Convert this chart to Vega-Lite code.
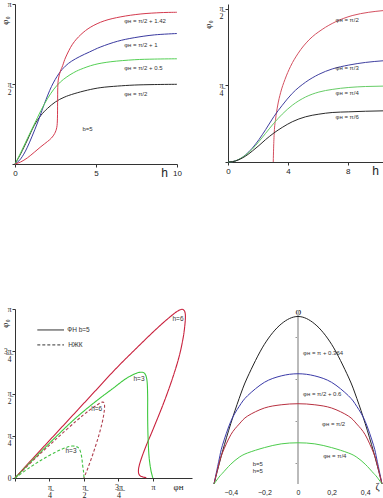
{
"$schema":"https://vega.github.io/schema/vega-lite/v6.json",
"background":"white",
"padding":{"left":0,"top":0,"right":0,"bottom":0},
"bounds":"flush",
"spacing":305,
"resolve":{"scale":{"color":"independent","strokeDash":"independent"}},
"config":{"view":{"stroke":null},"axis":{"grid":false,"domainColor":"#333","tickColor":"#333","labelColor":"#222","titleColor":"#222","labelFont":"Liberation Serif","titleFont":"Liberation Serif","labelFontSize":8,"tickSize":3,"titleFontWeight":"normal","labelLineHeight":8,"labelFlush":false,"labelOverlap":false}},
"datasets":{
"p1":[
{"s":"k","i":0,"x":0,"y":0},{"s":"k","i":1,"x":0.35,"y":0.2},{"s":"k","i":2,"x":0.763,"y":0.47},{"s":"k","i":3,"x":1.175,"y":0.75},{"s":"k","i":4,"x":1.588,"y":0.95},{"s":"k","i":5,"x":2.0,"y":1.09},{"s":"k","i":6,"x":2.5,"y":1.22},{"s":"k","i":7,"x":3.031,"y":1.31},{"s":"k","i":8,"x":3.649,"y":1.38},{"s":"k","i":9,"x":4.474,"y":1.45},{"s":"k","i":10,"x":5.299,"y":1.5},{"s":"k","i":11,"x":6.33,"y":1.53},{"s":"k","i":12,"x":7.361,"y":1.55},{"s":"k","i":13,"x":8.598,"y":1.56},{"s":"k","i":14,"x":10,"y":1.565},
{"s":"b","i":0,"x":0,"y":0},{"s":"b","i":1,"x":0.35,"y":0.1},{"s":"b","i":2,"x":0.763,"y":0.33},{"s":"b","i":3,"x":1.36,"y":0.785},{"s":"b","i":4,"x":1.8,"y":1.17},{"s":"b","i":5,"x":2.25,"y":1.52},{"s":"b","i":6,"x":2.7,"y":1.77},{"s":"b","i":7,"x":3.1,"y":1.92},{"s":"b","i":8,"x":3.5,"y":2.02},{"s":"b","i":9,"x":4.0,"y":2.11},{"s":"b","i":10,"x":4.6,"y":2.2},{"s":"b","i":11,"x":5.3,"y":2.3},{"s":"b","i":12,"x":6.33,"y":2.41},{"s":"b","i":13,"x":7.36,"y":2.48},{"s":"b","i":14,"x":8.6,"y":2.535},{"s":"b","i":15,"x":10,"y":2.562},
{"s":"g","i":0,"x":0,"y":0},{"s":"g","i":1,"x":0.35,"y":0.22},{"s":"g","i":2,"x":0.763,"y":0.5},{"s":"g","i":3,"x":1.19,"y":0.78},{"s":"g","i":4,"x":1.6,"y":1.05},{"s":"g","i":5,"x":2.0,"y":1.28},{"s":"g","i":6,"x":2.4,"y":1.47},{"s":"g","i":7,"x":2.8,"y":1.61},{"s":"g","i":8,"x":3.2,"y":1.71},{"s":"g","i":9,"x":3.6,"y":1.79},{"s":"g","i":10,"x":4.062,"y":1.86},{"s":"g","i":11,"x":4.887,"y":1.95},{"s":"g","i":12,"x":5.918,"y":2.008},{"s":"g","i":13,"x":7.361,"y":2.047},{"s":"g","i":14,"x":8.598,"y":2.06},{"s":"g","i":15,"x":10,"y":2.066},
{"s":"r","i":0,"x":0,"y":0},{"s":"r","i":1,"x":0.35,"y":0.04},{"s":"r","i":2,"x":0.763,"y":0.12},{"s":"r","i":3,"x":1.19,"y":0.23},{"s":"r","i":4,"x":1.6,"y":0.34},{"s":"r","i":5,"x":2.0,"y":0.44},{"s":"r","i":6,"x":2.25,"y":0.51},{"s":"r","i":7,"x":2.45,"y":0.6},{"s":"r","i":8,"x":2.58,"y":0.72},{"s":"r","i":9,"x":2.62,"y":0.9},{"s":"r","i":10,"x":2.63,"y":1.2},{"s":"r","i":11,"x":2.64,"y":1.5},{"s":"r","i":12,"x":2.68,"y":1.67},{"s":"r","i":13,"x":2.8,"y":1.82},{"s":"r","i":14,"x":2.94,"y":1.93},{"s":"r","i":15,"x":3.134,"y":2.1},{"s":"r","i":16,"x":3.546,"y":2.35},{"s":"r","i":17,"x":4.062,"y":2.54},{"s":"r","i":18,"x":4.68,"y":2.69},{"s":"r","i":19,"x":5.505,"y":2.81},{"s":"r","i":20,"x":6.536,"y":2.89},{"s":"r","i":21,"x":7.773,"y":2.946},{"s":"r","i":22,"x":9.01,"y":2.972},{"s":"r","i":23,"x":10,"y":2.979}
],
"p1t":[
{"x":6.74,"y":2.8,"t":"φн = π/2 + 1.42"},{"x":6.74,"y":2.346,"t":"φн = π/2 + 1"},{"x":6.74,"y":1.89,"t":"φн = π/2 + 0.5"},{"x":6.74,"y":1.369,"t":"φн = π/2"},{"x":4.16,"y":0.684,"t":"b=5"}
],
"p2":[
{"s":"r","i":0,"x":3.022,"y":0},{"s":"r","i":1,"x":3.044,"y":0.135},{"s":"r","i":2,"x":3.089,"y":0.305},{"s":"r","i":3,"x":3.178,"y":0.44},{"s":"r","i":4,"x":3.311,"y":0.575},{"s":"r","i":5,"x":3.511,"y":0.711},{"s":"r","i":6,"x":3.8,"y":0.846},{"s":"r","i":7,"x":4.178,"y":0.982},{"s":"r","i":8,"x":4.689,"y":1.117},{"s":"r","i":9,"x":5.4,"y":1.252},{"s":"r","i":10,"x":6.289,"y":1.361},{"s":"r","i":11,"x":7.178,"y":1.439},{"s":"r","i":12,"x":8.289,"y":1.503},{"s":"r","i":13,"x":9.4,"y":1.537},{"s":"r","i":14,"x":10.35,"y":1.554},
{"s":"b","i":0,"x":0,"y":0},{"s":"b","i":1,"x":0.289,"y":0.003},{"s":"b","i":2,"x":0.733,"y":0.027},{"s":"b","i":3,"x":1.178,"y":0.074},{"s":"b","i":4,"x":1.622,"y":0.142},{"s":"b","i":5,"x":2.067,"y":0.23},{"s":"b","i":6,"x":2.511,"y":0.332},{"s":"b","i":7,"x":3.067,"y":0.467},{"s":"b","i":8,"x":3.622,"y":0.582},{"s":"b","i":9,"x":4.289,"y":0.704},{"s":"b","i":10,"x":5.178,"y":0.819},{"s":"b","i":11,"x":6.067,"y":0.9},{"s":"b","i":12,"x":6.956,"y":0.955},{"s":"b","i":13,"x":8.067,"y":0.995},{"s":"b","i":14,"x":9.178,"y":1.022},{"s":"b","i":15,"x":10.35,"y":1.039},
{"s":"g","i":0,"x":0,"y":0},{"s":"g","i":1,"x":0.289,"y":0.003},{"s":"g","i":2,"x":0.733,"y":0.027},{"s":"g","i":3,"x":1.178,"y":0.071},{"s":"g","i":4,"x":1.622,"y":0.132},{"s":"g","i":5,"x":2.067,"y":0.21},{"s":"g","i":6,"x":2.511,"y":0.294},{"s":"g","i":7,"x":3.067,"y":0.399},{"s":"g","i":8,"x":3.622,"y":0.491},{"s":"g","i":9,"x":4.289,"y":0.582},{"s":"g","i":10,"x":5.178,"y":0.667},{"s":"g","i":11,"x":6.067,"y":0.718},{"s":"g","i":12,"x":6.956,"y":0.745},{"s":"g","i":13,"x":8.067,"y":0.765},{"s":"g","i":14,"x":9.178,"y":0.775},{"s":"g","i":15,"x":10.35,"y":0.779},
{"s":"k","i":0,"x":0,"y":0},{"s":"k","i":1,"x":0.289,"y":0.003},{"s":"k","i":2,"x":0.733,"y":0.024},{"s":"k","i":3,"x":1.178,"y":0.061},{"s":"k","i":4,"x":1.622,"y":0.112},{"s":"k","i":5,"x":2.067,"y":0.169},{"s":"k","i":6,"x":2.511,"y":0.23},{"s":"k","i":7,"x":3.067,"y":0.298},{"s":"k","i":8,"x":3.622,"y":0.355},{"s":"k","i":9,"x":4.289,"y":0.413},{"s":"k","i":10,"x":5.178,"y":0.464},{"s":"k","i":11,"x":6.067,"y":0.491},{"s":"k","i":12,"x":6.956,"y":0.508},{"s":"k","i":13,"x":8.067,"y":0.515},{"s":"k","i":14,"x":9.178,"y":0.521},{"s":"k","i":15,"x":10.35,"y":0.525}
],
"p2t":[
{"x":7.18,"y":1.456,"t":"φн = π/2"},{"x":7.18,"y":0.965,"t":"φн = π/3"},{"x":7.18,"y":0.704,"t":"φн = π/4"},{"x":7.18,"y":0.457,"t":"φн = π/6"}
],
"p3":[
{"s":"r6","i":0,"x":0,"y":0},{"s":"r6","i":1,"x":0.47,"y":0.42},{"s":"r6","i":2,"x":0.926,"y":0.822},{"s":"r6","i":3,"x":1.381,"y":1.224},{"s":"r6","i":4,"x":1.836,"y":1.626},{"s":"r6","i":5,"x":2.292,"y":2.028},{"s":"r6","i":6,"x":2.747,"y":2.399},{"s":"r6","i":7,"x":3.202,"y":2.758},{"s":"r6","i":8,"x":3.544,"y":3.005},{"s":"r6","i":9,"x":3.733,"y":3.117},{"s":"r6","i":10,"x":3.832,"y":3.129},{"s":"r6","i":11,"x":3.877,"y":3.049},{"s":"r6","i":12,"x":3.87,"y":2.863},{"s":"r6","i":13,"x":3.824,"y":2.585},{"s":"r6","i":14,"x":3.733,"y":2.245},{"s":"r6","i":15,"x":3.582,"y":1.843},{"s":"r6","i":16,"x":3.392,"y":1.41},{"s":"r6","i":17,"x":3.164,"y":0.946},{"s":"r6","i":18,"x":2.959,"y":0.544},{"s":"r6","i":19,"x":2.84,"y":0.266},{"s":"r6","i":20,"x":2.81,"y":0.124},{"s":"r6","i":21,"x":2.84,"y":0.049},{"s":"r6","i":22,"x":2.914,"y":0.019},{"s":"r6","i":23,"x":2.99,"y":0.006},
{"s":"g3","i":0,"x":0,"y":0},{"s":"g3","i":1,"x":0.47,"y":0.39},{"s":"g3","i":2,"x":0.926,"y":0.761},{"s":"g3","i":3,"x":1.381,"y":1.113},{"s":"g3","i":4,"x":1.836,"y":1.422},{"s":"g3","i":5,"x":2.216,"y":1.657},{"s":"g3","i":6,"x":2.519,"y":1.843},{"s":"g3","i":7,"x":2.747,"y":1.942},{"s":"g3","i":8,"x":2.883,"y":1.967},{"s":"g3","i":9,"x":2.959,"y":1.936},{"s":"g3","i":10,"x":3.005,"y":1.812},{"s":"g3","i":11,"x":3.02,"y":1.534},{"s":"g3","i":12,"x":3.02,"y":1.163},{"s":"g3","i":13,"x":3.028,"y":0.792},{"s":"g3","i":14,"x":3.05,"y":0.421},{"s":"g3","i":15,"x":3.088,"y":0.173},{"s":"g3","i":16,"x":3.126,"y":0.037},{"s":"g3","i":17,"x":3.141,"y":0},
{"s":"r6d","i":0,"x":0,"y":0},{"s":"r6d","i":1,"x":0.47,"y":0.371},{"s":"r6d","i":2,"x":0.926,"y":0.717},{"s":"r6d","i":3,"x":1.381,"y":1.051},{"s":"r6d","i":4,"x":1.685,"y":1.255},{"s":"r6d","i":5,"x":1.874,"y":1.36},{"s":"r6d","i":6,"x":1.988,"y":1.41},{"s":"r6d","i":7,"x":2.034,"y":1.379},{"s":"r6d","i":8,"x":2.034,"y":1.255},{"s":"r6d","i":9,"x":1.988,"y":1.039},{"s":"r6d","i":10,"x":1.897,"y":0.761},{"s":"r6d","i":11,"x":1.776,"y":0.451},{"s":"r6d","i":12,"x":1.654,"y":0.173},{"s":"r6d","i":13,"x":1.586,"y":0.037},{"s":"r6d","i":14,"x":1.571,"y":0},
{"s":"g3d","i":0,"x":0,"y":0},{"s":"g3d","i":1,"x":0.319,"y":0.186},{"s":"g3d","i":2,"x":0.622,"y":0.346},{"s":"g3d","i":3,"x":0.926,"y":0.482},{"s":"g3d","i":4,"x":1.153,"y":0.563},{"s":"g3d","i":5,"x":1.305,"y":0.594},{"s":"g3d","i":6,"x":1.419,"y":0.575},{"s":"g3d","i":7,"x":1.48,"y":0.513},{"s":"g3d","i":8,"x":1.518,"y":0.39},{"s":"g3d","i":9,"x":1.54,"y":0.235},{"s":"g3d","i":10,"x":1.563,"y":0.099},{"s":"g3d","i":11,"x":1.571,"y":0}
],
"p3t":[
{"x":3.711,"y":2.956,"t":"h=6"},{"x":2.823,"y":1.843,"t":"h=3"},{"x":1.859,"y":1.274,"t":"h=6"},{"x":1.275,"y":0.495,"t":"h=3"}
],
"p3lt":[
{"x":1.19,"y":2.752,"t":"ФН   b=5"},{"x":1.21,"y":2.474,"t":"НЖК"}
],
"p3ls":[{"x":0.508,"x2":1.116,"y":2.752}],
"p3ld":[{"x":0.508,"x2":1.116,"y":2.474}],
"p4":[
{"s":"k","i":0,"x":-0.5,"y":0},{"s":"k","i":1,"x":-0.45,"y":0.6},{"s":"k","i":2,"x":-0.4,"y":1.13},{"s":"k","i":3,"x":-0.35,"y":1.6},{"s":"k","i":4,"x":-0.3,"y":2.0},{"s":"k","i":5,"x":-0.2,"y":2.61},{"s":"k","i":6,"x":-0.1,"y":2.99},{"s":"k","i":7,"x":0,"y":3.13},{"s":"k","i":8,"x":0.1,"y":2.99},{"s":"k","i":9,"x":0.2,"y":2.61},{"s":"k","i":10,"x":0.3,"y":2.0},{"s":"k","i":11,"x":0.35,"y":1.6},{"s":"k","i":12,"x":0.4,"y":1.13},{"s":"k","i":13,"x":0.45,"y":0.6},{"s":"k","i":14,"x":0.5,"y":0},
{"s":"b","i":0,"x":-0.5,"y":0},{"s":"b","i":1,"x":-0.47,"y":0.45},{"s":"b","i":2,"x":-0.45,"y":0.72},{"s":"b","i":3,"x":-0.4,"y":1.17},{"s":"b","i":4,"x":-0.35,"y":1.45},{"s":"b","i":5,"x":-0.3,"y":1.65},{"s":"b","i":6,"x":-0.2,"y":1.9},{"s":"b","i":7,"x":-0.1,"y":2.02},{"s":"b","i":8,"x":0,"y":2.06},{"s":"b","i":9,"x":0.1,"y":2.02},{"s":"b","i":10,"x":0.2,"y":1.9},{"s":"b","i":11,"x":0.3,"y":1.65},{"s":"b","i":12,"x":0.35,"y":1.45},{"s":"b","i":13,"x":0.4,"y":1.17},{"s":"b","i":14,"x":0.45,"y":0.72},{"s":"b","i":15,"x":0.47,"y":0.45},{"s":"b","i":16,"x":0.5,"y":0},
{"s":"r","i":0,"x":-0.5,"y":0},{"s":"r","i":1,"x":-0.47,"y":0.38},{"s":"r","i":2,"x":-0.45,"y":0.58},{"s":"r","i":3,"x":-0.4,"y":0.92},{"s":"r","i":4,"x":-0.35,"y":1.12},{"s":"r","i":5,"x":-0.3,"y":1.27},{"s":"r","i":6,"x":-0.2,"y":1.42},{"s":"r","i":7,"x":-0.1,"y":1.48},{"s":"r","i":8,"x":0,"y":1.5},{"s":"r","i":9,"x":0.1,"y":1.48},{"s":"r","i":10,"x":0.2,"y":1.42},{"s":"r","i":11,"x":0.3,"y":1.27},{"s":"r","i":12,"x":0.35,"y":1.12},{"s":"r","i":13,"x":0.4,"y":0.92},{"s":"r","i":14,"x":0.45,"y":0.58},{"s":"r","i":15,"x":0.47,"y":0.38},{"s":"r","i":16,"x":0.5,"y":0},
{"s":"g","i":0,"x":-0.5,"y":0},{"s":"g","i":1,"x":-0.47,"y":0.13},{"s":"g","i":2,"x":-0.45,"y":0.2},{"s":"g","i":3,"x":-0.4,"y":0.37},{"s":"g","i":4,"x":-0.35,"y":0.5},{"s":"g","i":5,"x":-0.3,"y":0.58},{"s":"g","i":6,"x":-0.2,"y":0.68},{"s":"g","i":7,"x":-0.1,"y":0.75},{"s":"g","i":8,"x":0,"y":0.77},{"s":"g","i":9,"x":0.1,"y":0.75},{"s":"g","i":10,"x":0.2,"y":0.68},{"s":"g","i":11,"x":0.3,"y":0.58},{"s":"g","i":12,"x":0.35,"y":0.5},{"s":"g","i":13,"x":0.4,"y":0.37},{"s":"g","i":14,"x":0.45,"y":0.2},{"s":"g","i":15,"x":0.47,"y":0.13},{"s":"g","i":16,"x":0.5,"y":0}
],
"p4t":[
{"x":0.03,"y":2.44,"t":"φн = π + 0.364"},{"x":0.03,"y":1.68,"t":"φн = π/2 + 0.6"},{"x":0.143,"y":1.127,"t":"φн = π/2"},{"x":0.15,"y":0.52,"t":"φн = π/4"},{"x":-0.27,"y":0.38,"t":"b=5"},{"x":-0.27,"y":0.24,"t":"h=5"}
],
"p4ax":[{"x":0,"y":0,"y2":3.18}]
},
"vconcat":[
{"hconcat":[
{"width":162,"height":160,"layer":[
{"data":{"name":"p1"},"mark":{"type":"line","strokeWidth":1,"interpolate":"cardinal"},
"encoding":{
"x":{"field":"x","type":"quantitative","scale":{"domain":[0,10],"nice":false},"axis":{"values":[0,5,10],"title":"h","titleX":149,"titleY":3,"titleBaseline":"top","titleFontSize":12,"titleFont":"Liberation Sans","labelFont":"Liberation Sans"}},
"y":{"field":"y","type":"quantitative","scale":{"domain":[0,3.1416],"nice":false},"axis":{"values":[0,0.7854,1.5708,2.3562,3.1416],"labelExpr":"datum.value < 0.01 ? '' : abs(datum.value - 0.7854) < 0.01 ? ['\u03c0\u0332','4'] : abs(datum.value - 1.5708) < 0.01 ? ['\u03c0\u0332','2'] : abs(datum.value - 2.3562) < 0.01 ? ['3\u0332\u03c0\u0332','4'] : abs(datum.value - 3.1416) < 0.01 ? '\u03c0' : ''","labelPadding":1,"labelFontSize":7.5,"title":"φ₀","titleX":-6,"titleY":16,"titleFontSize":9}},
"color":{"field":"s","type":"nominal","scale":{"domain":["k","g","b","r"],"range":["#2a2a2a","#55d055","#3a3aa0","#d43a4e"]},"legend":null},
"order":{"field":"i","type":"quantitative"}}},
{"data":{"name":"p1t"},"mark":{"type":"text","align":"left","baseline":"middle","fontSize":6,"font":"Liberation Sans","color":"#333"},
"encoding":{"x":{"field":"x","type":"quantitative"},"y":{"field":"y","type":"quantitative"},"text":{"field":"t"}}}
]},
{"width":155,"height":158,"layer":[
{"data":{"name":"p2"},"mark":{"type":"line","strokeWidth":1,"interpolate":"monotone"},
"encoding":{
"x":{"field":"x","type":"quantitative","scale":{"domain":[0,10.35],"nice":false},"axis":{"values":[0,1,2,3,4,5,6,7,8,9,10],"labelExpr":"datum.value % 4 == 0 ? datum.label : ''","title":"h","titleX":147,"titleY":3,"titleBaseline":"top","titleFontSize":12,"titleFont":"Liberation Sans","labelFont":"Liberation Sans"}},
"y":{"field":"y","type":"quantitative","scale":{"domain":[0,1.622],"nice":false},"axis":{"values":[0,0.3927,0.7854,1.1781,1.5708],"labelExpr":"abs(datum.value - 0.7854) < 0.01 ? ['\u03c0\u0332','4'] : abs(datum.value - 1.5708) < 0.01 ? ['\u03c0\u0332','2'] : ''","title":"φ₀","titleX":-16,"titleY":20,"titleFontSize":9}},
"color":{"field":"s","type":"nominal","scale":{"domain":["k","g","b","r"],"range":["#2a2a2a","#66cc66","#4040a0","#d45060"]},"legend":null},
"order":{"field":"i","type":"quantitative"}}},
{"data":{"name":"p2t"},"mark":{"type":"text","align":"left","baseline":"middle","fontSize":6,"font":"Liberation Sans","color":"#333"},
"encoding":{"x":{"field":"x","type":"quantitative"},"y":{"field":"y","type":"quantitative"},"text":{"field":"t"}}}
]}
],"spacing":51,"bounds":"flush","resolve":{"scale":{"color":"independent"}}},
{"hconcat":[
{"width":177,"height":169,"layer":[
{"data":{"name":"p3"},"mark":{"type":"line","strokeWidth":1.1,"interpolate":"cardinal"},
"encoding":{
"x":{"field":"x","type":"quantitative","scale":{"domain":[0,4.03],"nice":false},"axis":{"values":[0,0.3927,0.7854,1.1781,1.5708,1.9635,2.3562,2.7489,3.1416],"labelExpr":"abs(datum.value - 0.7854) < 0.01 ? ['\u03c0\u0332','4'] : abs(datum.value - 1.5708) < 0.01 ? ['\u03c0\u0332','2'] : abs(datum.value - 2.3562) < 0.01 ? ['3\u0332\u03c0\u0332','4'] : abs(datum.value - 3.1416) < 0.01 ? '\u03c0' : ''","title":"φн","titleX":163,"titleY":4,"titleBaseline":"top","titleFontSize":9}},
"y":{"field":"y","type":"quantitative","scale":{"domain":[0,3.1416],"nice":false},"axis":{"values":[0,0.3927,0.7854,1.1781,1.5708,1.9635,2.3562,2.7489,3.1416],"labelExpr":"datum.value < 0.01 ? '0' : abs(datum.value - 0.7854) < 0.01 ? ['\u03c0\u0332','4'] : abs(datum.value - 1.5708) < 0.01 ? ['\u03c0\u0332','2'] : abs(datum.value - 2.3562) < 0.01 ? ['3\u0332\u03c0\u0332','4'] : abs(datum.value - 3.1416) < 0.01 ? '\u03c0' : ''","labelPadding":1,"labelFontSize":7.5,"title":"φ₀","titleX":-6,"titleY":14,"titleFontSize":9}},
"color":{"field":"s","type":"nominal","scale":{"domain":["r6","g3","r6d","g3d"],"range":["#c8203c","#3ec83e","#b04050","#40c040"]},"legend":null},
"strokeDash":{"field":"s","type":"nominal","scale":{"domain":["r6","g3","r6d","g3d"],"range":[[1,0],[1,0],[3,2],[3,2]]},"legend":null},
"order":{"field":"i","type":"quantitative"}}},
{"data":{"name":"p3ls"},"mark":{"type":"rule","color":"#333","strokeWidth":1},
"encoding":{"x":{"field":"x","type":"quantitative"},"x2":{"field":"x2"},"y":{"field":"y","type":"quantitative"}}},
{"data":{"name":"p3ld"},"mark":{"type":"rule","color":"#333","strokeWidth":1,"strokeDash":[3,2]},
"encoding":{"x":{"field":"x","type":"quantitative"},"x2":{"field":"x2"},"y":{"field":"y","type":"quantitative"}}},
{"data":{"name":"p3t"},"mark":{"type":"text","align":"center","baseline":"middle","fontSize":6.5,"font":"Liberation Sans","color":"#333"},
"encoding":{"x":{"field":"x","type":"quantitative"},"y":{"field":"y","type":"quantitative"},"text":{"field":"t"}}},
{"data":{"name":"p3lt"},"mark":{"type":"text","align":"left","baseline":"middle","fontSize":6.5,"font":"Liberation Sans","color":"#333"},
"encoding":{"x":{"field":"x","type":"quantitative"},"y":{"field":"y","type":"quantitative"},"text":{"field":"t"}}}
]},
{"width":168,"height":175,"layer":[
{"data":{"name":"p4ax"},"mark":{"type":"rule","color":"#bbbbbb","strokeWidth":2},
"encoding":{"x":{"field":"x","type":"quantitative","scale":{"domain":[-0.5,0.5],"nice":false},"axis":{"values":[-0.4,-0.2,0,0.2,0.4],"labelExpr":"datum.value == 0 ? '0' : replace(format(datum.value, '.1f'), '.', ',')","domain":false,"ticks":false,"labelPadding":4,"title":"ζ","titleX":163,"titleY":2,"titleBaseline":"middle","titleFontSize":10,"labelFont":"Liberation Sans","labelFontSize":7}},
"y":{"field":"y","type":"quantitative","scale":{"domain":[0,3.27],"nice":false},"axis":{"offset":-84,"domain":false,"tickColor":"#999","values":[0.3927,0.7854,1.1781,1.5708,1.9635,2.3562,2.7489,3.1416],"labelExpr":"abs(datum.value - 0.7854) < 0.01 ? ['\u03c0\u0332','4'] : abs(datum.value - 1.5708) < 0.01 ? ['\u03c0\u0332','2'] : abs(datum.value - 2.3562) < 0.01 ? ['3\u0332\u03c0\u0332','4'] : ''","title":"φ","titleAngle":0,"titleX":0,"titleY":2,"titleAlign":"center","titleBaseline":"middle","titleFontSize":10}},
"y2":{"field":"y2"}}},
{"data":{"name":"p4"},"mark":{"type":"line","strokeWidth":1,"interpolate":"cardinal"},
"encoding":{
"x":{"field":"x","type":"quantitative"},
"y":{"field":"y","type":"quantitative"},
"color":{"field":"s","type":"nominal","scale":{"domain":["k","b","r","g"],"range":["#222222","#3a3aa8","#b83040","#4ccc4c"]},"legend":null},
"order":{"field":"i","type":"quantitative"}}},
{"data":{"name":"p4t"},"mark":{"type":"text","align":"left","baseline":"middle","fontSize":6,"font":"Liberation Sans","color":"#333"},
"encoding":{"x":{"field":"x","type":"quantitative"},"y":{"field":"y","type":"quantitative"},"text":{"field":"t"}}}
]}
],"spacing":22,"bounds":"flush","resolve":{"scale":{"color":"independent","strokeDash":"independent"}}}
]
}
